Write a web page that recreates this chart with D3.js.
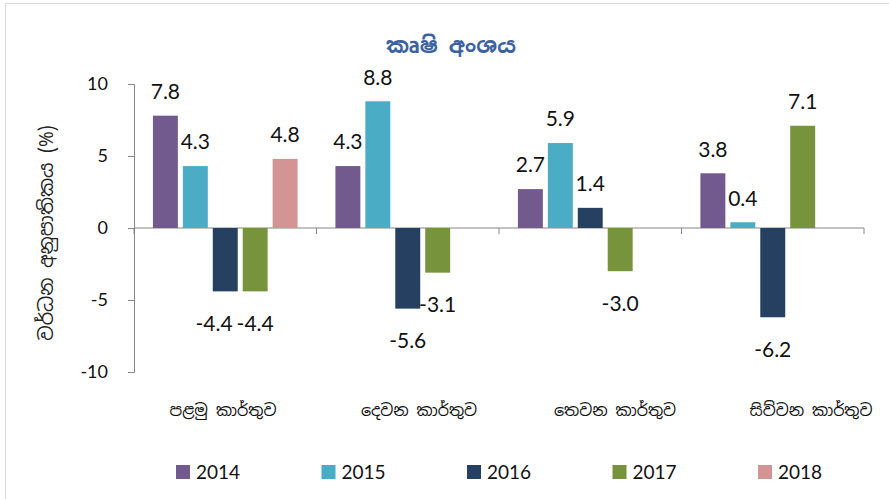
<!DOCTYPE html>
<html>
<head>
<meta charset="utf-8">
<script src="https://cdn.jsdelivr.net/npm/d3@7"></script>
<style>
  body { margin: 0; background: #fff; }
  text { font-family: "Noto Sans Sinhala", "Iskoola Pota", Lato, "Noto Sans", sans-serif; }
</style>
</head>
<body>
<svg id="chart" width="889" height="499"></svg>
<script>
// data
var quarters = ["පළමු කාර්තුව", "දෙවන කාර්තුව", "තෙවන කාර්තුව", "සිව්වන කාර්තුව"];
var years = ["2014", "2015", "2016", "2017", "2018"];
var v2014 = [7.8, 4.3, 2.7, 3.8];
var v2015 = [4.3, 8.8, 5.9, 0.4];
var v2016 = [-4.4, -5.6, 1.4, -6.2];
var v2017 = [-4.4, -3.1, -3.0, 7.1];
var v2018 = [4.8, null, null, null];
var yTicks = [10, 5, 0, -5, -10];
var colors = ["#72598E", "#4BACC6", "#254061", "#77933C", "#D39594"];

var series = [v2014, v2015, v2016, v2017, v2018];

var svg = d3.select("#chart");

// outer frame (only top & left visible)
svg.append("rect")
  .attr("x", 5.5).attr("y", 3.5)
  .attr("width", 1000).attr("height", 1000)
  .style("fill", "none")
  .style("stroke", "#d9d9d9");

var x0 = d3.scaleBand().domain(quarters).range([134, 864])
  .paddingInner(0.18).paddingOuter(0.09);
var x1 = d3.scaleBand().domain(years).range([0, x0.bandwidth()])
  .paddingInner(1 / 6).paddingOuter(1 / 12);
var y = d3.scaleLinear().domain([-10, 10]).range([372, 84]);

// title
svg.append("text")
  .attr("x", 451).attr("y", 53)
  .attr("text-anchor", "middle")
  .style("font-size", "22px")
  .style("font-weight", "bold")
  .style("fill", "#3D62A0")
  .text("කෘෂි අංශය");

// y axis label
svg.append("text")
  .attr("transform", "translate(53,233) rotate(-90)")
  .attr("text-anchor", "middle")
  .style("font-size", "19px")
  .style("fill", "#222")
  .text("වර්ධන අනුපාතිකය (%)");

// y axis
var yAxis = svg.append("g")
  .attr("transform", "translate(134,0)")
  .call(d3.axisLeft(y).tickValues(yTicks).tickSizeOuter(0).tickSize(6).tickPadding(20)
    .tickFormat(function(d) { return String(d); }));
yAxis.select(".domain").style("stroke", "#868686");
yAxis.selectAll(".tick line").style("stroke", "#868686");
yAxis.selectAll(".tick text")
  .style("font-family", "Lato, 'Open Sans', sans-serif")
  .style("font-size", "18px")
  .style("fill", "#111");

// x axis line at zero with category boundary ticks
svg.append("line")
  .attr("x1", 134).attr("x2", 864)
  .attr("y1", y(0)).attr("y2", y(0))
  .style("stroke", "#868686");
var bounds = quarters.map(function(q) { return x0(q) - x0.step() * x0.paddingOuter(); });
bounds.push(864);
svg.selectAll(".xtick").data(bounds).enter().append("line")
  .attr("class", "xtick")
  .attr("x1", function(d) { return d; }).attr("x2", function(d) { return d; })
  .attr("y1", y(0)).attr("y2", y(0) + 6)
  .style("stroke", "#868686");

// category labels
var labelX = d3.scalePoint().domain(quarters).range([223, 811]);
svg.selectAll(".cat").data(quarters).enter().append("text")
  .attr("class", "cat")
  .attr("x", function(d) { return labelX(d); })
  .attr("y", 416)
  .attr("text-anchor", "middle")
  .style("font-size", "16px")
  .style("fill", "#111")
  .text(function(d) { return d; });

// bars
var rows = [];
series.forEach(function(vals, si) {
  vals.forEach(function(v, qi) {
    if (v !== null) rows.push({ q: quarters[qi], yr: years[si], v: v, c: colors[si] });
  });
});

svg.selectAll(".bar").data(rows).enter().append("rect")
  .attr("class", "bar")
  .attr("x", function(d) { return x0(d.q) + x1(d.yr); })
  .attr("width", x1.bandwidth())
  .attr("y", function(d) { return y(Math.max(0, d.v)); })
  .attr("height", function(d) { return Math.abs(y(d.v) - y(0)); })
  .style("fill", function(d) { return d.c; });

// value labels
var vals = svg.selectAll(".val").data(rows).enter().append("text")
  .attr("class", "val")
  .attr("x", function(d) { return x0(d.q) + x1(d.yr) + x1.bandwidth() / 2; })
  .attr("y", function(d) { return d.v >= 0 ? y(d.v) - 24 : y(d.v) + 32; })
  .attr("dy", "0.35em")
  .attr("text-anchor", "middle")
  .style("font-family", "Lato, 'Open Sans', sans-serif")
  .style("font-size", "21px")
  .style("fill", "#111")
  .text(function(d) { return d.v.toFixed(1); });

// push colliding labels apart (move the left one further left)
var nodes = vals.nodes();
for (var i = 0; i < nodes.length; i++) {
  for (var j = 0; j < nodes.length; j++) {
    if (i === j) continue;
    var a = nodes[i].getBBox(), b = nodes[j].getBBox();
    if (a.x < b.x && a.x + a.width > b.x - 3 &&
        a.y < b.y + b.height && a.y + a.height > b.y) {
      var shift = a.x + a.width - b.x + 4;
      d3.select(nodes[i]).attr("x", +d3.select(nodes[i]).attr("x") - shift);
    }
  }
}

// legend
var leg = svg.selectAll(".leg").data(years).enter().append("g")
  .attr("class", "leg")
  .attr("transform", function(d, i) { return "translate(" + (176 + i * 145.5) + ",465)"; });
leg.append("rect")
  .attr("width", 14).attr("height", 14)
  .style("fill", function(d, i) { return colors[i]; });
leg.append("text")
  .attr("x", 20).attr("y", 7).attr("dy", "0.35em")
  .style("font-family", "Lato, 'Open Sans', sans-serif")
  .style("font-size", "19px")
  .style("fill", "#111")
  .text(function(d) { return d; });
</script>
</body>
</html>
